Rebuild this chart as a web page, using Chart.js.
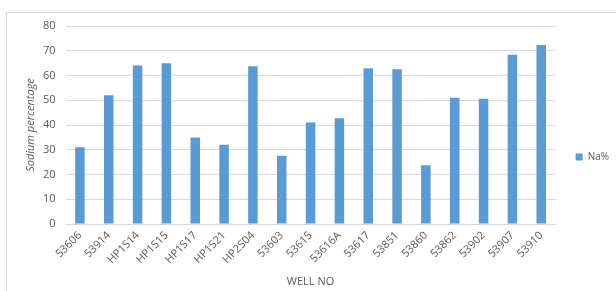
<!DOCTYPE html>
<html>
<head>
<meta charset="utf-8">
<script src="https://cdn.jsdelivr.net/npm/chart.js@4.4.1/dist/chart.umd.min.js"></script>
<style>
  body { margin: 0; background: #fff; }
  #wrap { position: relative; width: 616px; height: 291px; }
  #frame { position: absolute; left: 6px; top: 12px; right: -2px; bottom: -2px; border: 1px solid #d9d9d9; }
  canvas { position: absolute; left: 0; top: 0; }
</style>
</head>
<body>
<div id="wrap">
  <div id="frame"></div>
  <canvas id="chart" width="616" height="291"></canvas>
</div>
<script>
// Sodium percentage per well
const wells = ['53606', '53914', 'HP1S14', 'HP1S15', 'HP1S17', 'HP1S21', 'HP2S04', '53603', '53615',
  '53616A', '53617', '53851', '53860', '53862', '53902', '53907', '53910'];
const naPercent = [31, 52, 64, 65, 35, 32, 63.7, 27.6, 41, 42.7, 62.9, 62.5, 23.7, 51, 50.6, 68.4, 72.3];

const font = 'Open Sans, sans-serif';

const ctx = document.getElementById('chart').getContext('2d');
new Chart(ctx, {
  type: 'bar',
  data: {
    labels: wells,
    datasets: [{
      label: 'Na%',
      data: naPercent,
      backgroundColor: '#5b9bd5',
      borderWidth: 0,
      barPercentage: 0.33,
      categoryPercentage: 1,
    }],
  },
  options: {
    responsive: false,
    animation: false,
    layout: { padding: { top: 26, left: 20, right: -3, bottom: 3 } },
    plugins: {
      tooltip: { enabled: false },
      legend: {
        position: 'right',
        labels: { boxWidth: 7, boxHeight: 7, color: '#595959', font: { family: font, size: 10 }, padding: 20 },
      },
    },
    scales: {
      x: {
        grid: { display: false, drawTicks: false },
        border: { color: '#d9d9d9' },
        ticks: { color: '#595959', font: { family: font, size: 11 }, minRotation: 45, maxRotation: 45, padding: 5 },
        title: { display: true, text: 'WELL NO', color: '#595959', font: { family: font, size: 11 }, padding: { top: 4, bottom: 0 } },
        afterFit: (scale) => { scale.height = 64; },
      },
      y: {
        min: 0,
        max: 80,
        ticks: { stepSize: 10, color: '#595959', font: { family: font, size: 11 }, padding: 10 },
        grid: { color: '#d9d9d9', drawTicks: false },
        border: { display: false },
        title: { display: true, text: 'Sodium percentage', color: '#595959', font: { family: font, size: 11, style: 'italic' } },
        afterFit: (scale) => { scale.width = 45.5; },
      },
    },
  },
});
</script>
</body>
</html>
